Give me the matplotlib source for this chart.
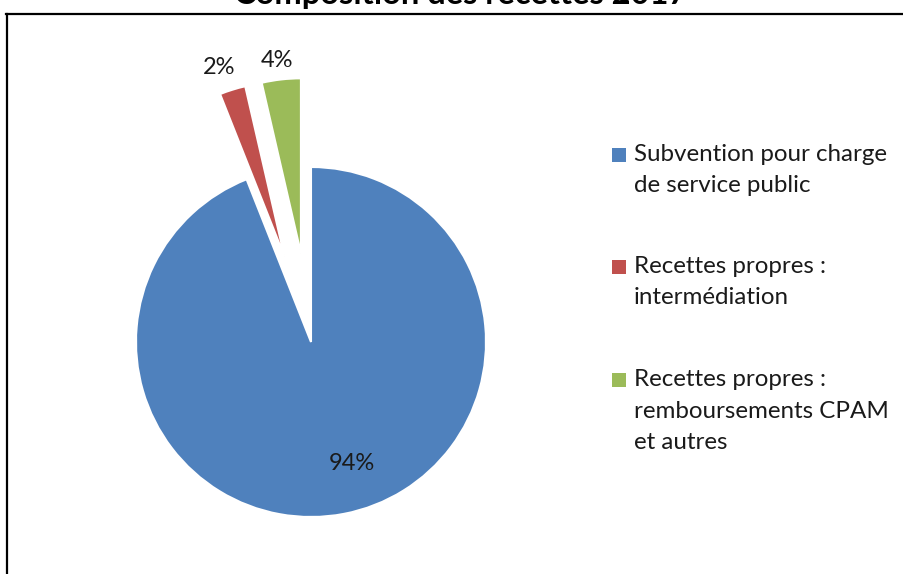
import matplotlib
matplotlib.use('Agg')
import matplotlib.pyplot as plt
from matplotlib.lines import Line2D
from matplotlib.patches import Rectangle

plt.rcParams['font.family'] = ['Lato', 'DejaVu Sans']

title = 'Composition des recettes 2017'
categories = ['Subvention pour charge\nde service public',
              'Recettes propres :\nintermédiation',
              'Recettes propres :\nremboursements CPAM\net autres']
values = [94.0, 2.4, 3.6]
colors = ['#4F81BD', '#C0504D', '#9BBB59']

# label positions (pie data units) and legend rows (pixels from top)
label_pos = [(0.234, -0.697), (-0.526, 1.571), (-0.194, 1.611)]
legend_rows = [155, 267, 380]

W, H = 904, 574
fig = plt.figure(figsize=(W / 100, H / 100), dpi=100)

# chart border (cut on right and bottom)
fig.add_artist(Line2D([7 / W, 7 / W], [0, (H - 14) / H], color='black', lw=1.6))
fig.add_artist(Line2D([6 / W, 1], [(H - 14) / H, (H - 14) / H], color='black', lw=1.6))

fig.text(461 / W, (H - 4) / H, title, ha='center', va='baseline',
         fontsize=23.5, fontweight='bold', color='black')

cx, cy, r = 311, 342, 175
ax = fig.add_axes([(cx - r) / W, (H - cy - r) / H, 2 * r / W, 2 * r / H])
wedges, texts, autotexts = ax.pie(
    values, colors=colors, startangle=90, counterclock=False,
    explode=[0, 0.51, 0.51], autopct='%.0f%%',
    wedgeprops=dict(edgecolor='white', linewidth=1.5, clip_on=False),
    textprops=dict(fontsize=17, color='#1a1a1a'))
for t, (px, py) in zip(autotexts, label_pos):
    t.set_position((px, py))
    t.set_clip_on(False)
ax.set_xlim(-1, 1)
ax.set_ylim(-1, 1)
ax.set_aspect('equal')
ax.axis('off')

# legend
for cat, col, row in zip(categories, colors, legend_rows):
    fig.add_artist(Rectangle((612 / W, (H - row - 7) / H), 14 / W, 14 / H,
                             transform=fig.transFigure, facecolor=col,
                             edgecolor='none'))
    for i, line in enumerate(cat.split('\n')):
        fig.text(634 / W, (H - row - 6 - i * 31.5) / H, line,
                 ha='left', va='baseline', fontsize=17.4, color='#1a1a1a')

plt.savefig('out.png', dpi=100)
